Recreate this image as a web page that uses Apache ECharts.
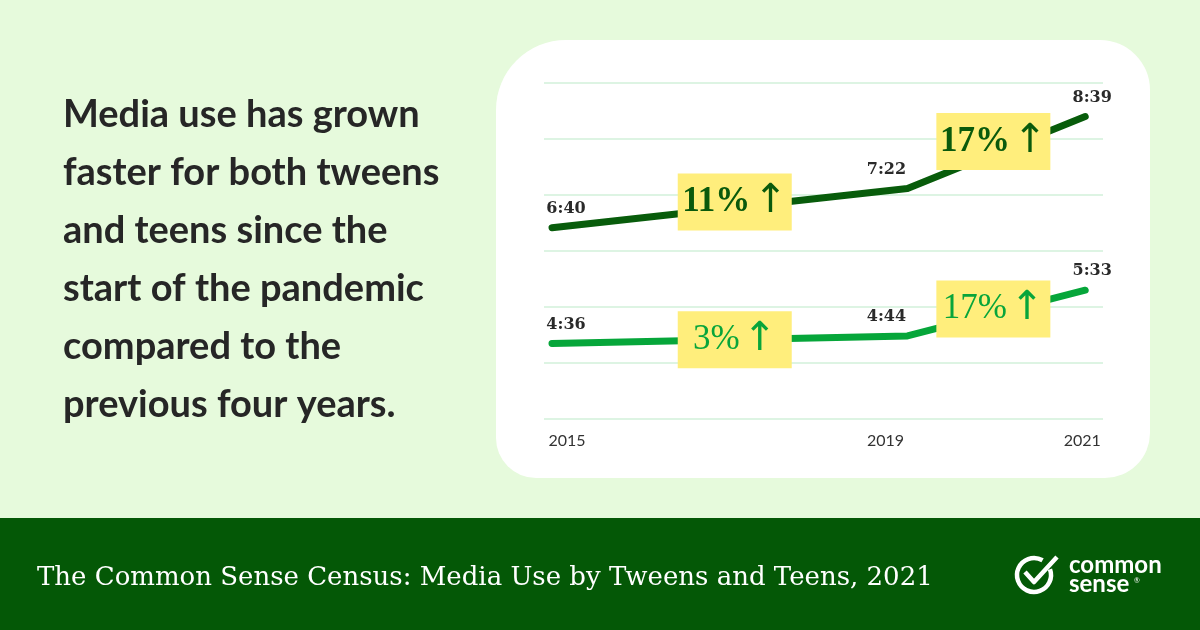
<!DOCTYPE html>
<html><head><meta charset="utf-8">
<script src="https://cdn.jsdelivr.net/npm/echarts@6/dist/echarts.min.js"></script>
<style>html,body{margin:0;padding:0;background:#E6FADC}#c{width:1200px;height:630px}</style>
</head><body><div id="c"></div>
<script>
// ---- data ----
const years = [2015, 2019, 2021];
const teenTimes = ['6:40', '7:22', '8:39'];
const tweenTimes = ['4:36', '4:44', '5:33'];
const teenGrowth = ['11%', '17%'];
const tweenGrowth = ['3%', '17%'];
const yearTicks = [2015, 2019, 2021];
const headlineLines = [
  'Media use has grown',
  'faster for both tweens',
  'and teens since the',
  'start of the pandemic',
  'compared to the',
  'previous four years.'
];
const footerTitle = 'The Common Sense Census: Media Use by Tweens and Teens, 2021';
const brandLines = ['common', 'sense'];

// ---- styling helpers (not data) ----
const labelShiftX = [14, -21, 7];
const teenBoxShift = [[5, -6], [-3, -11]];
const tweenBoxShift = [[5, 0], [-3, -4]];
const DARK = '#085C0B';
const BRIGHT = '#06A63A';

const toMin = s => { const [h, m] = s.split(':').map(Number); return h * 60 + m; };

function lineSeries(times, growth, boxShift, color, textColor, weight) {
  const vals = times.map(toMin);
  const data = years.map((y, i) => ({ value: [y, vals[i]], label: { offset: [labelShiftX[i], 0] } }));
  const boxes = growth.map((g, i) => ({
    coord: [(years[i] + years[i + 1]) / 2, (vals[i] + vals[i + 1]) / 2],
    symbolOffset: boxShift[i],
    label: { formatter: '{n|' + g + '} {a|\u2191}' }
  }));
  return {
    type: 'line', yAxisIndex: 1, data, z: 2,
    symbol: 'circle', symbolSize: 2, itemStyle: { color },
    lineStyle: { color, width: 7, cap: 'round', join: 'round' },
    label: {
      show: true, position: 'top', distance: 10,
      formatter: p => times[p.dataIndex],
      fontFamily: 'DejaVu Serif', fontWeight: 'bold', fontSize: 16, color: '#2a2a2a'
    },
    emphasis: { disabled: true },
    markPoint: {
      z: 10,
      symbol: 'rect', symbolSize: [114, 57],
      itemStyle: { color: '#FFEE7C' },
      label: {
        show: true, position: 'inside',
        rich: {
          n: { fontFamily: 'Liberation Serif', fontWeight: weight, fontSize: 35, color: textColor },
          a: { fontFamily: 'DejaVu Sans', fontWeight: 'normal', fontSize: 40, color: textColor }
        }
      },
      data: boxes
    }
  };
}

const chart = echarts.init(document.getElementById('c'), null, { renderer: 'canvas' });
chart.setOption({
  animation: false,
  backgroundColor: '#E6FADC',
  grid: { left: 544, right: 97, top: 83, bottom: 211 },
  xAxis: {
    type: 'value', min: 2014.91, max: 2021.2,
    axisLine: { show: false }, axisTick: { show: false }, splitLine: { show: false },
    axisLabel: {
      customValues: yearTicks, margin: 14,
      formatter: v => v === yearTicks[0] ? '{a|' + v + '}' : (v === yearTicks[1] ? '{b|' + v + '}' : '{c|' + v + '}'),
      rich: {
        a: { fontFamily: 'Lato', fontSize: 16, color: '#333', padding: [0, 0, 0, 30] },
        b: { fontFamily: 'Lato', fontSize: 16, color: '#333', padding: [0, 44, 0, 0] },
        c: { fontFamily: 'Lato', fontSize: 16, color: '#333', padding: [0, 6, 0, 0] }
      }
    }
  },
  yAxis: [
    { type: 'value', min: 0, max: 6, interval: 1,
      axisLine: { show: false }, axisTick: { show: false }, axisLabel: { show: false },
      splitLine: { show: true, lineStyle: { color: '#D2F0DA', width: 1.5 } } },
    { type: 'value', min: 195, max: 555, show: false, splitLine: { show: false } }
  ],
  series: [
    lineSeries(teenTimes, teenGrowth, teenBoxShift, DARK, '#0A5A0C', 'bold'),
    lineSeries(tweenTimes, tweenGrowth, tweenBoxShift, BRIGHT, '#08A53B', 'normal')
  ],
  graphic: [
    { type: 'rect', z: -10, shape: { x: 496, y: 40, width: 654, height: 438, r: [70, 50, 45, 40] }, style: { fill: '#FFFFFF' } },
    { type: 'rect', z: -10, shape: { x: 0, y: 518, width: 1200, height: 112 }, style: { fill: '#045806' } },
    { type: 'text', x: 63, y: 86, style: { text: headlineLines.join('\n'), font: 'bold 38px Lato', lineHeight: 58, fill: '#262626', align: 'left', verticalAlign: 'top' } },
    { type: 'text', x: 37, y: 578, style: { text: footerTitle, font: '26px "DejaVu Serif"', fill: '#FFFFFF', align: 'left', verticalAlign: 'middle' } },
    { type: 'arc', shape: { cx: 1034, cy: 575, r: 17, startAngle: -0.35, endAngle: 5.24, clockwise: true }, style: { stroke: '#FFFFFF', lineWidth: 4.5, fill: null } },
    { type: 'polyline', shape: { points: [[1025, 572], [1034, 582], [1057, 557]] }, style: { stroke: '#FFFFFF', lineWidth: 4.5, fill: null, lineJoin: 'round' } },
    { type: 'text', x: 1069, y: 565, style: { text: brandLines[0], font: 'bold 24px Lato', fill: '#FFFFFF', align: 'left', verticalAlign: 'middle' } },
    { type: 'text', x: 1069, y: 584, style: { text: brandLines[1], font: 'bold 24px Lato', fill: '#FFFFFF', align: 'left', verticalAlign: 'middle' } },
    { type: 'text', x: 1134, y: 581, style: { text: '\u00AE', font: '7px Lato', fill: '#FFFFFF', align: 'left', verticalAlign: 'middle' } }
  ]
});
</script></body></html>
